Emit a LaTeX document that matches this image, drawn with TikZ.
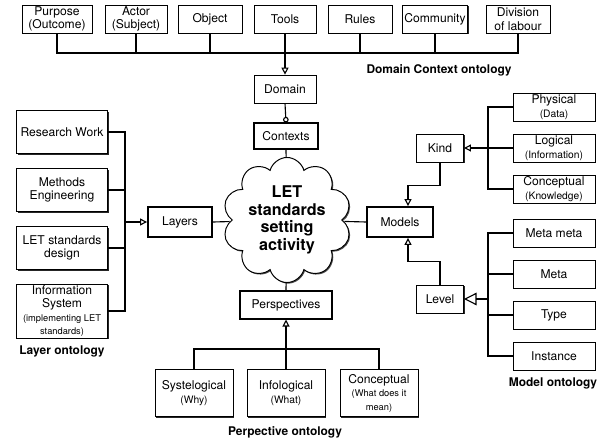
\documentclass[tikz,border=0pt]{standalone}
\usepackage{fontspec}
\setmainfont{TeX Gyre Heros}
\usetikzlibrary{arrows.meta,shapes.symbols,shadows}
\newcommand{\subtxt}[1]{{\fontsize{7.3}{8.2}\selectfont #1}}
\newcommand{\smalltxt}[1]{{\fontsize{6.6}{7.6}\selectfont #1}}
\tikzset{
  box/.style={draw, fill=white, line width=0.5pt, align=center, inner sep=1pt,
    minimum width=1.6cm, minimum height=0.7cm,
    font=\fontsize{8.6}{9.6}\selectfont,
    drop shadow={shadow xshift=0.9pt, shadow yshift=-0.9pt, opacity=1, fill=black!85}},
  mainbox/.style={box, line width=1.3pt},
  link/.style={line width=0.8pt},
  isa/.style={link, -{Triangle[open, length=5pt, width=5pt]}},
  title/.style={font=\fontsize{8.5}{10}\selectfont\bfseries},
}

\begin{document}
\begin{tikzpicture}[x=0.025cm, y=-0.025cm]
  \useasboundingbox (0,0) rectangle (604,439);
  % domain context ontology
  \node[box, minimum width=1.75cm] (purpose) at (57,19) {Purpose\\(Outcome)};
  \node[box, minimum width=1.55cm] (actor) at (136,19) {Actor\\(Subject)};
  \node[box] (object) at (210,19) {Object};
  \node[box, minimum width=1.55cm] (tools) at (285,19) {Tools};
  \node[box] (rules) at (360,19) {Rules};
  \node[box, minimum width=1.63cm] (community) at (435,19) {Community};
  \node[box] (division) at (518,19) {Division\\of labour};
  \node[title] (domtitle) at (439,70) {Domain Context ontology};
  \coordinate (topbus) at (0,53);
  \draw[link] (purpose.south) |- (division.south |- topbus) -- (division.south);
  \draw[link] (actor.south) -- (actor.south |- topbus);
  \draw[link] (object.south) -- (object.south |- topbus);
  \draw[link] (rules.south) -- (rules.south |- topbus);
  \draw[link] (community.south) -- (community.south |- topbus);

  \node[box, minimum width=1.55cm] (domain) at (285,89) {Domain};
  \node[mainbox, minimum width=1.58cm, minimum height=0.63cm] (contexts) at (286,136) {Contexts};
  \draw[isa] (tools.south) -- (domain.north);
  \draw[link, -{Circle[open, length=4pt]}] (domain.south) -- (contexts.north);

  % centre
  \node[cloud, cloud puffs=10, aspect=1.05, draw, line width=0.7pt, fill=white,
    minimum width=3cm, minimum height=2.85cm, inner sep=0pt, align=center,
    font=\fontsize{11.5}{12.5}\selectfont\bfseries,
    drop shadow={shadow xshift=0.8pt, shadow yshift=-0.8pt, opacity=1, fill=black!70}]
    (let) at (287,220) {LET\\standards\\setting\\activity};
  \draw[link] (contexts.south) -- (let);

  % layer ontology
  \node[box, minimum width=2.28cm, minimum height=1.08cm] (research) at (62,132) {Research Work};
  \node[box, minimum width=2.28cm, minimum height=1.08cm] (methods) at (62,190) {Methods\\Engineering};
  \node[box, minimum width=2.28cm, minimum height=1.08cm] (design) at (62,248) {LET standards\\design};
  \node[box, minimum width=2.28cm, minimum height=1.33cm] (infosys) at (62,311)
    {Information\\System\\\smalltxt{(implementing LET}\\\smalltxt{standards)}};
  \node[title] (laytitle) at (62,351) {Layer ontology};
  \node[mainbox, minimum height=0.75cm] (layers) at (180,222) {Layers};
  \coordinate (lbus) at (125,0);
  \draw[link] (research.east) -| (lbus |- infosys.east) -- (infosys.east);
  \draw[link] (methods.east) -- (methods.east -| lbus);
  \draw[link] (design.east) -- (design.east -| lbus);
  \draw[isa] (lbus |- layers) -- (layers.west);
  \draw[link] (layers.east) -- (let);

  % model ontology
  \node[mainbox, minimum width=1.63cm, minimum height=0.75cm] (models) at (400,222) {Models};
  \draw[link] (let) -- (models.west);
  \node[box, minimum width=1.18cm] (kind) at (440,148) {Kind};
  \node[box, minimum width=1.18cm] (level) at (440,299) {Level};
  \node[box, minimum width=2.05cm] (physical) at (554,107) {Physical\\\subtxt{(Data)}};
  \node[box, minimum width=2.05cm] (logical) at (554,148) {Logical\\\subtxt{(Information)}};
  \node[box, minimum width=2.05cm] (knowledge) at (554,189) {Conceptual\\\subtxt{(Knowledge)}};
  \node[box, minimum width=2.05cm] (metameta) at (554,233) {Meta meta};
  \node[box, minimum width=2.05cm] (meta) at (554,274) {Meta};
  \node[box, minimum width=2.05cm] (type) at (554,315) {Type};
  \node[box, minimum width=2.05cm] (instance) at (554,356) {Instance};
  \node[title] (modtitle) at (553,383) {Model ontology};
  \coordinate (rbus) at (488,0);
  \draw[link] (physical.west) -| (rbus |- knowledge.west) -- (knowledge.west);
  \draw[isa] (logical.west) -- (kind.east);
  \draw[link] (metameta.west) -| (rbus |- instance.west) -- (instance.west);
  \draw[link] (meta.west) -- (meta.west -| rbus);
  \draw[link] (type.west) -- (type.west -| rbus);
  \draw[link, -{Triangle[open, length=9pt, width=9pt]}] (rbus |- level) -- (level.east);
  \draw[isa] (kind.south) -- ++(0,23) -| ([xshift=0.2cm]models.north);
  \draw[isa] (level.north) -- ++(0,-23) -| ([xshift=0.2cm]models.south);

  % perspective ontology
  \node[mainbox, minimum width=2.28cm, minimum height=0.68cm] (persp) at (286,305) {Perspectives};
  \draw[link] (let) -- (persp.north);
  \node[box, minimum width=1.95cm, minimum height=1.18cm] (systel) at (194,393) {Systelogical\\\subtxt{(Why)}};
  \node[box, minimum width=1.95cm, minimum height=1.18cm] (infolog) at (286,393) {Infological\\\subtxt{(What)}};
  \node[box, minimum width=1.95cm, minimum height=1.18cm] (concept) at (379,393) {Conceptual\\\smalltxt{(What does it}\\\smalltxt{mean)}};
  \node[title] (perstitle) at (285,432) {Perpective ontology};
  \coordinate (pbus) at (0,349);
  \draw[link] (systel.north) |- (concept.north |- pbus) -- (concept.north);
  \draw[isa] (infolog.north) -- (persp.south);
\end{tikzpicture}
\end{document}
